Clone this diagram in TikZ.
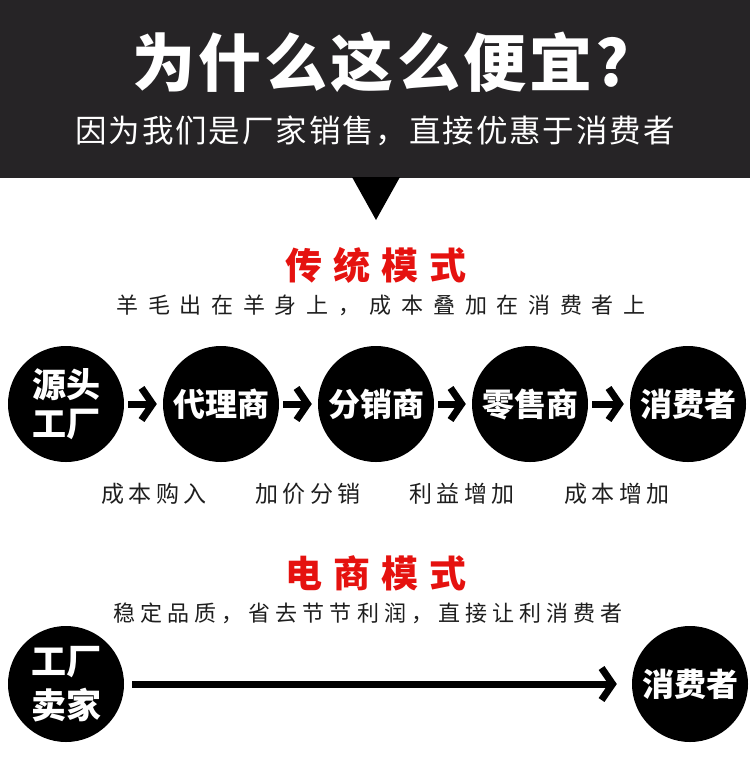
\documentclass[tikz,border=0pt]{standalone}
\usepackage{fontspec}
\usetikzlibrary{arrows.meta}
\setmainfont{Noto Sans CJK SC}
\newfontfamily\cjkwide[LetterSpace=44]{Noto Sans CJK SC}
\newfontfamily\cjkhead[LetterSpace=30]{Noto Sans CJK SC}
\newfontfamily\cjklab[LetterSpace=20]{Noto Sans CJK SC}
\newfontfamily\cjkmid[LetterSpace=23]{Noto Sans CJK SC}
\newfontfamily\cjksub[LetterSpace=6]{Noto Sans CJK SC}
\newfontfamily\cjktitle[LetterSpace=5]{Noto Sans CJK SC}
\definecolor{band}{HTML}{262426}
\definecolor{redc}{HTML}{E5120F}
\definecolor{ink}{HTML}{1E1E1E}
\tikzset{
  circ/.style={circle, fill=black, minimum size=116pt, inner sep=0pt, text=white,
    font=\bfseries\fontsize{32}{39}\selectfont, align=center},
  flow/.style={line width=7pt, -{Straight Barb[length=11pt,width=32pt]}},
  redhead/.style={text=redc, font=\cjkhead\bfseries\fontsize{37}{40}\selectfont},
  subline/.style={text=ink, font=\cjkwide\fontsize{22}{26}\selectfont},
  lab/.style={text=ink, font=\cjklab\fontsize{23}{26}\selectfont},
}
\begin{document}
\begin{tikzpicture}[x=1pt,y=-1pt]
\useasboundingbox (0,0) rectangle (750,758);
\fill[band] (0,0) rectangle (750,178);
\fill[black] (352,177) -- (400,177) -- (376,220) -- cycle;
\node[text=white, font=\cjktitle\bfseries\fontsize{63}{66}\selectfont] (title) at (381,62) {为什么这么便宜?};
\node[text=white, font=\cjksub\fontsize{31.5}{34}\selectfont] (subtitle) at (375,131) {因为我们是厂家销售，直接优惠于消费者};

\node[redhead] (h1) at (376,265) {传统模式};
\node[subline] (s1) at (381,305) {羊毛出在羊身上，成本叠加在消费者上};

\node[circ, font=\bfseries\fontsize{34}{39}\selectfont] (c1) at (66,404) {源头\\工厂};
\node[circ] (c2) at (221,404) {代理商};
\node[circ] (c3) at (376,404) {分销商};
\node[circ] (c4) at (530,404) {零售商};
\node[circ] (c5) at (688,404) {消费者};
\draw[flow, shorten <=4pt, shorten >=6pt] (c1) -- (c2);
\draw[flow, shorten <=4pt, shorten >=6pt] (c2) -- (c3);
\draw[flow, shorten <=4pt, shorten >=6pt] (c3) -- (c4);
\draw[flow, shorten <=4pt, shorten >=6pt] (c4) -- (c5);

\node[lab] (l1) at (154,494) {成本购入};
\node[lab] (l2) at (308,494) {加价分销};
\node[lab] (l3) at (462,494) {利益增加};
\node[lab] (l4) at (617,494) {成本增加};

\node[redhead] (h2) at (376,573) {电商模式};
\node[text=ink, font=\cjkmid\fontsize{22}{26}\selectfont] (s2) at (368,613) {稳定品质，省去节节利润，直接让利消费者};

\node[circ, font=\bfseries\fontsize{35}{44}\selectfont] (b1) at (66,684) {工厂\\卖家};
\node[circ] (b2) at (690,684) {消费者};
\draw[flow, shorten <=8pt, shorten >=15pt] (b1) -- (b2);
\end{tikzpicture}
\end{document}
